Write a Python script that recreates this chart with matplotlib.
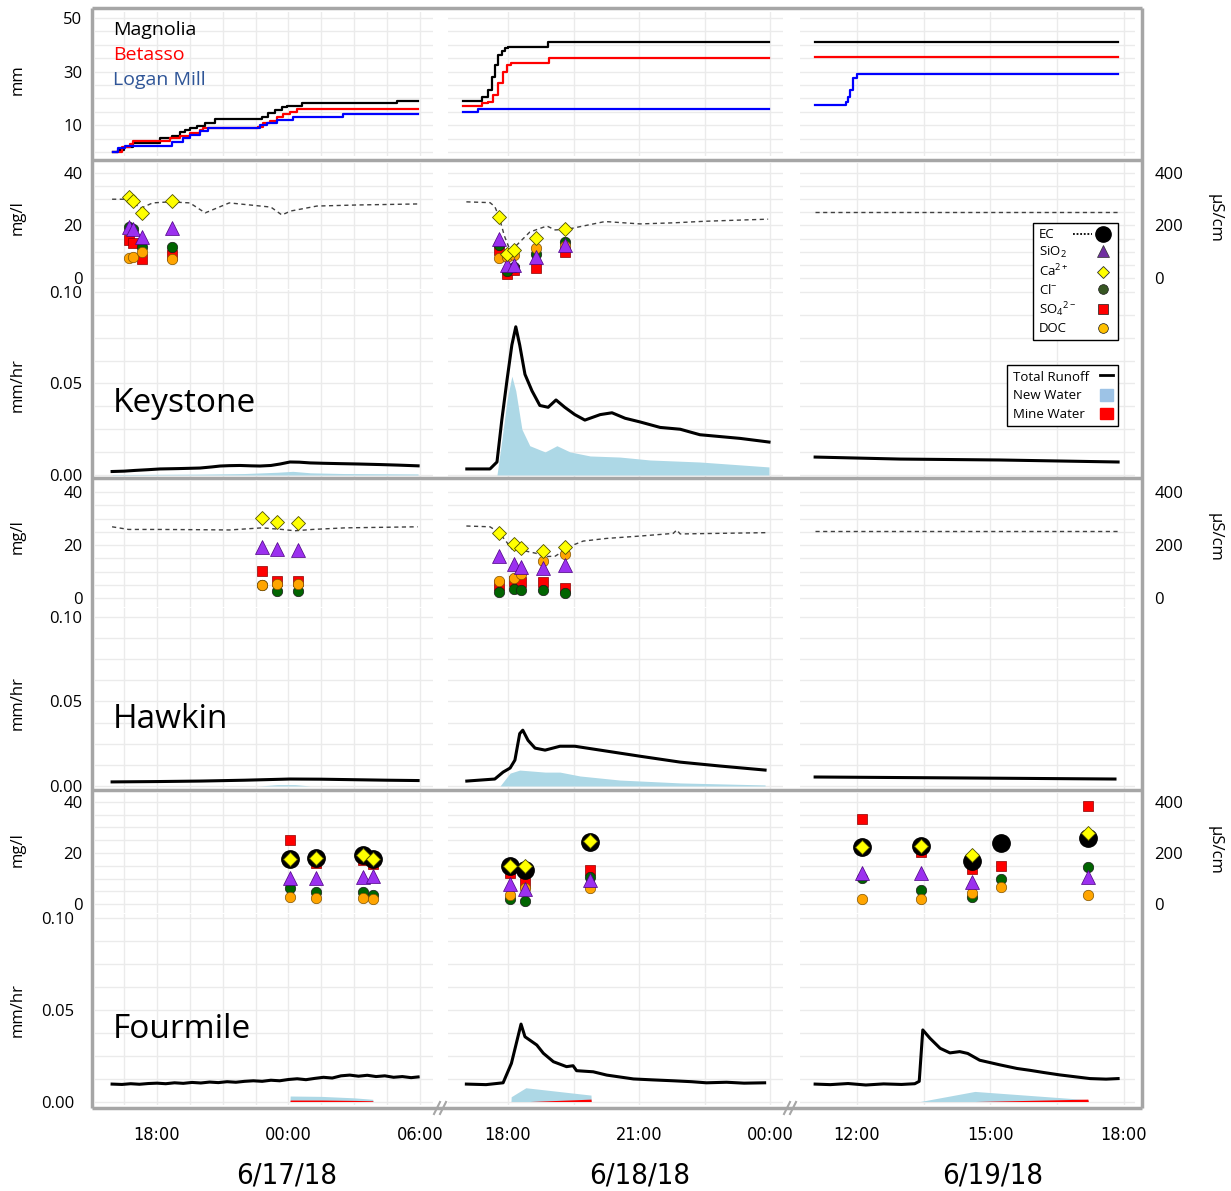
import numpy as np
import matplotlib.pyplot as plt
import matplotlib.transforms as mtransforms
from matplotlib import font_manager as fm
from matplotlib.lines import Line2D
from matplotlib.patches import Patch
from matplotlib.legend_handler import HandlerTuple

# time axis: hours since 6/17/18 00:00

# ---- cumulative precipitation (mm) ----
mag_t1 = [15.99, 16.2, 16.5, 16.9, 18.14, 18.67, 19.05, 19.28, 19.51, 19.81, 20.19, 20.65, 22.78, 23.08, 23.39, 23.69, 23.92, 24.61, 28.95, 29.93]
mag_v1 = [0, 0.8, 1.8, 3.2, 5.1, 6.1, 7.3, 8.2, 8.8, 9.8, 10.7, 12.2, 12.9, 14.4, 15.7, 16.7, 17.2, 18.2, 19.1, 19.1]
bet_t1 = [15.99, 16.39, 16.77, 16.92, 18.59, 19.05, 19.51, 19.96, 20.11, 22.63, 22.85, 23.16, 23.47, 23.77, 24.07, 24.38, 29.93]
bet_v1 = [0, 2.0, 3.0, 4.2, 5.1, 6.1, 7.0, 8.2, 9.1, 9.4, 10.7, 11.7, 13.2, 14.2, 15.0, 16.2, 16.2]
log_t1 = [15.99, 16.23, 16.54, 18.67, 19.2, 19.51, 19.96, 20.34, 22.7, 23.0, 23.47, 24.23, 26.5, 29.93]
log_v1 = [0, 1.4, 2.2, 3.8, 5.1, 6.3, 7.8, 9.1, 10.1, 10.9, 11.9, 12.9, 14.0, 14.0]

mag_t2 = [40.97, 41.40, 41.47, 41.55, 41.63, 41.70, 41.78, 41.86, 41.93, 42.01, 42.92, 47.96]
mag_v2 = [19.1, 20.4, 20.6, 23.1, 28.1, 32.5, 36.2, 37.8, 38.7, 39.3, 41.0, 41.0]
bet_t2 = [40.97, 41.40, 41.55, 41.66, 41.78, 41.89, 41.97, 42.06, 42.95, 47.96]
bet_v2 = [17.2, 18.2, 18.8, 21.3, 25.6, 30.0, 32.5, 33.3, 35.2, 35.2]
log_t2 = [40.97, 41.32, 47.96]
log_v2 = [15.0, 16.2, 16.2]

mag_t3 = [59.06, 65.87]
mag_v3 = [41.0, 41.0]
bet_t3 = [59.06, 65.87]
bet_v3 = [35.3, 35.3]
log_t3 = [59.06, 59.69, 59.75, 59.80, 59.84, 59.91, 60.0, 65.87]
log_v3 = [17.5, 17.5, 18.5, 20.5, 23.0, 27.6, 29.1, 29.1]

# ---- Keystone chemistry (mg/l) and EC (uS/cm) ----
ks_t1 = [16.74, 16.92, 17.33, 18.67]
ks_ca1 = [30.7, 29.5, 24.6, 29.5]
ks_si1 = [19.6, 18.7, 15.5, 18.9]
ks_cl1 = [19.5, 18.5, 11.7, 11.7]
ks_so41 = [14.5, 13.2, 7.1, 8.8]
ks_doc1 = [7.5, 7.9, 10.0, 7.1]
ks_ect1 = [15.95, 16.54, 17.3, 17.8, 18.6, 19.5, 20.2, 21.3, 23.2, 23.7, 24.1, 25.3, 27.1, 29.9]
ks_ec1 = [300, 300, 267, 286, 290, 286, 248, 286, 270, 240, 255, 274, 278, 282]

ks_t2 = [41.80, 41.97, 42.14, 42.64, 43.30]
ks_ca2 = [23.1, 9.0, 10.7, 15.2, 18.7]
ks_si2 = [14.7, 5.0, 5.0, 8.1, 12.6]
ks_cl2 = [12.6, 2.5, 4.0, 9.0, 13.8]
ks_so42 = [10.7, 1.4, 3.0, 3.7, 9.8]
ks_doc2 = [7.7, 8.1, 8.6, 11.3, 12.2]
ks_ect2 = [41.05, 41.59, 41.70, 41.80, 41.92, 42.05, 42.2, 42.5, 42.89, 43.08, 43.3, 43.49, 44.22, 45.02, 45.78, 46.5, 47.2, 47.95]
ks_ec2 = [290, 287, 272, 232, 160, 105, 125, 175, 198, 183, 185, 190, 215, 206, 210, 216, 220, 224]

ks_ect3 = [59.06, 65.87]
ks_ec3 = [251, 251]

# ---- Hawkin chemistry ----
hw_t1 = [22.78, 23.47, 24.45]
hw_ca1 = [30.1, 28.6, 28.4]
hw_si1 = [19.1, 18.4, 18.1]
hw_cl1 = [5.0, 2.8, 2.8]
hw_so41 = [10.3, 6.5, 6.5]
hw_doc1 = [4.9, 5.3, 5.3]
hw_ect1 = [15.95, 16.7, 18.0, 20.0, 21.3, 22.8, 23.7, 24.3, 25.1, 26.6, 29.9]
hw_ec1 = [269, 259, 259, 258, 257, 265, 259, 254, 259, 265, 269]

hw_t2 = [41.80, 42.14, 42.30, 42.81, 43.30]
hw_ca2 = [24.6, 20.3, 18.8, 17.7, 19.4]
hw_si2 = [15.8, 12.8, 11.8, 11.2, 12.5]
hw_cl2 = [2.4, 3.5, 3.0, 3.0, 1.8]
hw_so42 = [4.9, 6.5, 6.2, 5.9, 3.7]
hw_doc2 = [6.5, 7.4, 9.1, 14.1, 16.6]
hw_ect2 = [41.05, 41.59, 41.80, 42.10, 42.30, 42.64, 42.81, 43.08, 43.49, 43.72, 44.25, 45.02, 45.78, 45.86, 45.94, 47.96]
hw_ec2 = [272, 269, 247, 184, 181, 169, 156, 158, 200, 215, 225, 234, 244, 257, 242, 247]

hw_ect3 = [59.06, 65.87]
hw_ec3 = [253, 253]

# ---- Fourmile chemistry (EC as discrete samples) ----
fm_t1 = [24.07, 25.25, 27.39, 27.88]
fm_ec1 = [175, 182, 192, 175]
fm_ca1 = [17.5, 17.9, 19.2, 17.5]
fm_so41 = [25.1, 16.0, 17.3, 15.7]
fm_si1 = [10.1, 10.1, 10.5, 11.0]
fm_cl1 = [6.4, 4.8, 4.6, 3.5]
fm_doc1 = [2.9, 2.5, 2.5, 2.1]

fm_t2 = [42.05, 42.39, 43.88]
fm_ec2 = [149, 133, 244]
fm_ca2 = [14.9, 14.9, 24.8]
fm_so42 = [12.0, 8.1, 13.3]
fm_si2 = [7.8, 5.8, 9.4]
fm_cl2 = [1.8, 1.3, 10.5]
fm_doc2 = [3.5, 6.2, 6.2]

fm_t3 = [60.11, 61.45, 62.59, 63.23, 65.20]
fm_ec3 = [222, 227, 170, 240, 258]
fm_ca3 = [22.2, 22.7, 19.2, np.nan, 28.0]
fm_so43 = [33.2, 20.5, 13.7, 15.0, 38.4]
fm_si3 = [12.0, 12.0, 8.7, np.nan, 10.7]
fm_cl3 = [10.1, 5.7, 2.9, 9.7, 14.4]
fm_doc3 = [1.8, 2.0, 4.4, 6.8, 3.5]

# ---- runoff (mm/hr) ----
ks_qt1 = [15.95, 16.5, 17.0, 17.6, 18.14, 19.0, 19.96, 20.5, 20.88, 21.3, 21.79, 22.3, 22.70, 23.2, 23.62, 24.07, 24.5, 24.99, 25.6, 26.36, 27.2, 28.18, 29.0, 29.92]
ks_q1 = [0.0019, 0.0021, 0.0025, 0.0029, 0.0033, 0.0035, 0.0038, 0.0044, 0.0049, 0.0051, 0.0052, 0.0050, 0.0049, 0.0052, 0.0060, 0.0071, 0.0070, 0.0066, 0.0064, 0.0062, 0.0060, 0.0057, 0.0054, 0.0050]
ks_nt1 = [15.95, 20.0, 22.0, 23.5, 24.2, 25.0, 26.5, 29.92]
ks_new1 = [0.0002, 0.0005, 0.0008, 0.0015, 0.0020, 0.0012, 0.0008, 0.0006]
ks_qt2 = [41.06, 41.59, 41.75, 41.86, 41.98, 42.09, 42.18, 42.27, 42.39, 42.55, 42.73, 42.92, 43.10, 43.30, 43.53, 43.76, 44.11, 44.38, 44.68, 45.02, 45.48, 45.94, 46.39, 46.85, 47.31, 47.97]
ks_q2 = [0.0033, 0.0033, 0.0071, 0.030, 0.052, 0.071, 0.081, 0.071, 0.055, 0.046, 0.038, 0.037, 0.041, 0.037, 0.033, 0.030, 0.033, 0.034, 0.031, 0.029, 0.026, 0.025, 0.022, 0.021, 0.020, 0.018]
ks_nt2 = [41.75, 41.86, 41.98, 42.09, 42.18, 42.32, 42.50, 42.85, 43.12, 43.42, 43.88, 44.56, 45.25, 46.39, 47.97]
ks_new2 = [0, 0.019, 0.041, 0.054, 0.046, 0.025, 0.016, 0.0126, 0.016, 0.0126, 0.0104, 0.0098, 0.0082, 0.0071, 0.0044]
ks_qt3 = [59.06, 60.97, 63.21, 65.87]
ks_q3 = [0.0098, 0.0087, 0.0082, 0.0071]

hw_qt1 = [15.95, 18.0, 20.0, 22.0, 24.07, 25.5, 27.0, 28.5, 29.92]
hw_q1 = [0.0024, 0.0026, 0.0029, 0.0034, 0.0041, 0.0040, 0.0037, 0.0034, 0.0032]
hw_nt1 = [22.7, 23.5, 24.3, 25.0]
hw_new1 = [0, 0.0008, 0.0008, 0]
hw_qt2 = [41.06, 41.70, 41.89, 42.05, 42.16, 42.27, 42.34, 42.46, 42.62, 42.85, 43.19, 43.53, 44.11, 45.02, 45.94, 46.85, 47.88]
hw_q2 = [0.0029, 0.0041, 0.0082, 0.0106, 0.0153, 0.031, 0.033, 0.027, 0.0224, 0.0212, 0.0235, 0.0235, 0.0212, 0.0176, 0.0141, 0.0118, 0.0094]
hw_nt2 = [41.82, 42.05, 42.27, 42.85, 43.19, 43.65, 44.56, 45.94, 47.88]
hw_new2 = [0, 0.0076, 0.0094, 0.0082, 0.0082, 0.0059, 0.0035, 0.0018, 0.0006]
hw_qt3 = [59.06, 62.0, 65.80]
hw_q3 = [0.0053, 0.0048, 0.0041]

fm_qt1 = [15.95, 16.4, 16.8, 17.2, 17.6, 18.0, 18.4, 18.8, 19.2, 19.6, 20.0, 20.4, 20.8, 21.2, 21.6, 22.0, 22.4, 22.8, 23.2, 23.6, 24.0, 24.4, 24.8, 25.2, 25.6, 26.0, 26.4, 26.8, 27.2, 27.6, 28.0, 28.4, 28.8, 29.2, 29.6, 29.92]
fm_q1 = [0.0095, 0.0093, 0.0097, 0.0094, 0.0098, 0.0100, 0.0097, 0.0102, 0.0099, 0.0104, 0.0101, 0.0106, 0.0103, 0.0108, 0.0105, 0.0110, 0.0113, 0.0110, 0.0116, 0.0113, 0.0120, 0.0124, 0.0119, 0.0126, 0.0132, 0.0128, 0.0140, 0.0144, 0.0138, 0.0143, 0.0136, 0.0140, 0.0132, 0.0136, 0.0130, 0.0134]
fm_nt1 = [24.07, 24.08, 25.5, 27.0, 27.85, 27.86]
fm_new1 = [0, 0.0030, 0.0028, 0.0020, 0.0012, 0]
fm_mine1 = [0, 0.0008, 0.0008, 0.0006, 0.0004, 0]
fm_qt2 = [41.05, 41.5, 41.89, 42.08, 42.30, 42.39, 42.66, 42.81, 43.04, 43.34, 43.49, 43.57, 43.95, 44.26, 44.87, 45.3, 45.78, 46.2, 46.54, 47.0, 47.4, 47.87]
fm_q2 = [0.0095, 0.0092, 0.0102, 0.0208, 0.0422, 0.0353, 0.0308, 0.0263, 0.0217, 0.0190, 0.0195, 0.0168, 0.0162, 0.0144, 0.0123, 0.0118, 0.0113, 0.0108, 0.0102, 0.0105, 0.0100, 0.0102]
fm_nt2 = [42.07, 42.075, 42.41, 43.90, 43.905]
fm_new2 = [0, 0.0026, 0.0075, 0.0035, 0]
fm_mt2 = [42.07, 42.5, 43.90, 43.905]
fm_mine2 = [0, 0, 0.0013, 0]
fm_qt3 = [59.06, 59.4, 59.8, 60.2, 60.6, 61.0, 61.3, 61.40, 61.48, 61.64, 61.87, 62.09, 62.31, 62.49, 62.76, 63.21, 63.6, 63.89, 64.2, 64.56, 64.9, 65.24, 65.6, 65.87]
fm_q3 = [0.0095, 0.0092, 0.0098, 0.0090, 0.0096, 0.0093, 0.0097, 0.0110, 0.0390, 0.0345, 0.0290, 0.0265, 0.0272, 0.0262, 0.0225, 0.0200, 0.0180, 0.0170, 0.0158, 0.0145, 0.0135, 0.0125, 0.0122, 0.0125]
fm_nt3 = [61.42, 62.65, 65.19, 65.20]
fm_new3 = [0, 0.0055, 0.0010, 0]
fm_mt3 = [62.65, 65.19, 65.20]
fm_mine3 = [0, 0.0013, 0]

# ---- tick labels ----
xlab_pos = [[18, 24, 30], [42, 45, 48], [60, 63, 66]]
xlab_txt = [['18:00', '00:00', '06:00'], ['18:00', '21:00', '00:00'], ['12:00', '15:00', '18:00']]
dates = ['6/17/18', '6/18/18', '6/19/18']
sites = ['Keystone', 'Hawkin', 'Fourmile']

W, H = 1231, 1191
plt.rcParams['font.family'] = ['Open Sans', 'DejaVu Sans']
plt.rcParams['mathtext.default'] = 'regular'


def pick_narrow():
    for fam, st in [('Liberation Sans Narrow', 'normal'), ('DejaVu Sans', 'condensed')]:
        try:
            p = fm.findfont(fm.FontProperties(family=fam, stretch=st), fallback_to_default=False)
        except ValueError:
            continue
        if 'Narrow' in p or 'Condensed' in p:
            return dict(family=fam, stretch=st), 1.0
    return dict(family='Roboto'), 0.85


narrow, nscale = pick_narrow()

fig = plt.figure(figsize=(W / 100, H / 100), dpi=100)

GRID = '#ebebeb'
FRAME = '#a6a6a6'
cols_px = [(95, 433), (448, 783), (800, 1135)]
cols_xlim = [(15.17, 30.60), (40.63, 48.29), (58.72, 66.25)]
xgrid = [np.arange(16.5, 30.7, 1.5), np.arange(42.0, 48.3, 1.5), np.arange(60.0, 66.3, 1.5)]


def px_axes(l, t, r, b):
    return fig.add_axes([l / W, 1 - b / H, (r - l) / W, (b - t) / H])


def style(ax, c, ylim, yticks, ylabels, fmt):
    ax.set_xlim(*cols_xlim[c])
    ax.set_ylim(*ylim)
    ax.set_xticks(xgrid[c])
    ax.set_yticks(yticks)
    ax.grid(True, color=GRID, lw=1)
    ax.set_axisbelow(True)
    for s in ax.spines.values():
        s.set_visible(False)
    ax.tick_params(length=0, labelbottom=False, labelleft=(c == 0), pad=9, labelsize=12)
    if c == 0:
        ax.set_yticklabels([fmt.format(v) if np.any(np.isclose(v, ylabels)) else '' for v in yticks])


def chem(ax, t, ca, si, cl, so4, doc, ect=None, ec=None, ecpts=None):
    ectr = mtransforms.Affine2D().scale(1, 0.1) + ax.transData
    if ect is not None:
        ax.plot(ect, ec, ls=(0, (3, 2.5)), color='#404040', lw=1.0, transform=ectr, zorder=2)
    ax.plot(t, so4, 's', ms=7, mfc='#ff0000', mec='#8b0000', mew=0.5, zorder=3)
    ax.plot(t, cl, 'o', ms=7.5, mfc='#006400', mec='#1a1a1a', mew=0.5, zorder=4)
    ax.plot(t, doc, 'o', ms=7.5, mfc='#ffa500', mec='#7f5200', mew=0.5, zorder=5)
    ax.plot(t, si, '^', ms=9.5, mfc='#9b30ef', mec='#4b0082', mew=0.5, zorder=6)
    if ecpts is not None:
        ax.plot(t, ecpts, 'o', ms=12.5, color='black', transform=ectr, zorder=7)
    ax.plot(t, ca, 'D', ms=6.8, mfc='#ffff00', mec='#505000', mew=0.6, zorder=8)


def runoff(ax, t, q, nt=None, new=None, mt=None, mine=None):
    if nt is not None:
        ax.fill_between(nt, 0, new, color='#add8e6', lw=0, zorder=2)
    if mt is not None:
        ax.fill_between(mt, 0, mine, color='#ff0000', lw=0, zorder=3)
    ax.plot(t, q, color='black', lw=2.2, zorder=4)


# row layout: (top px, bottom px, ylim)
rows = {
    'precip': (12, 156, (-1.5, 52.2)),
    'ks_chem': (163, 289, (-4.2, 43.8)),
    'ks_q': (290, 477, (-0.0011, 0.1011)),
    'hw_chem': (481, 607, (-3.4, 44.2)),
    'hw_q': (608, 789, (-0.0018, 0.1053)),
    'fm_chem': (793, 913, (-3.5, 43.5)),
    'fm_q': (914, 1105, (-0.0019, 0.1022)),
}

precip = [((mag_t1, mag_v1), (bet_t1, bet_v1), (log_t1, log_v1)),
          ((mag_t2, mag_v2), (bet_t2, bet_v2), (log_t2, log_v2)),
          ((mag_t3, mag_v3), (bet_t3, bet_v3), (log_t3, log_v3))]
chem_data = {
    'ks_chem': [(ks_t1, ks_ca1, ks_si1, ks_cl1, ks_so41, ks_doc1, ks_ect1, ks_ec1, None),
                (ks_t2, ks_ca2, ks_si2, ks_cl2, ks_so42, ks_doc2, ks_ect2, ks_ec2, None),
                ([], [], [], [], [], [], ks_ect3, ks_ec3, None)],
    'hw_chem': [(hw_t1, hw_ca1, hw_si1, hw_cl1, hw_so41, hw_doc1, hw_ect1, hw_ec1, None),
                (hw_t2, hw_ca2, hw_si2, hw_cl2, hw_so42, hw_doc2, hw_ect2, hw_ec2, None),
                ([], [], [], [], [], [], hw_ect3, hw_ec3, None)],
    'fm_chem': [(fm_t1, fm_ca1, fm_si1, fm_cl1, fm_so41, fm_doc1, None, None, fm_ec1),
                (fm_t2, fm_ca2, fm_si2, fm_cl2, fm_so42, fm_doc2, None, None, fm_ec2),
                (fm_t3, fm_ca3, fm_si3, fm_cl3, fm_so43, fm_doc3, None, None, fm_ec3)],
}
q_data = {
    'ks_q': [(ks_qt1, ks_q1, ks_nt1, ks_new1, None, None),
             (ks_qt2, ks_q2, ks_nt2, ks_new2, None, None),
             (ks_qt3, ks_q3, None, None, None, None)],
    'hw_q': [(hw_qt1, hw_q1, hw_nt1, hw_new1, None, None),
             (hw_qt2, hw_q2, hw_nt2, hw_new2, None, None),
             (hw_qt3, hw_q3, None, None, None, None)],
    'fm_q': [(fm_qt1, fm_q1, fm_nt1, fm_new1, fm_nt1, fm_mine1),
             (fm_qt2, fm_q2, fm_nt2, fm_new2, fm_mt2, fm_mine2),
             (fm_qt3, fm_q3, fm_nt3, fm_new3, fm_mt3, fm_mine3)],
}

for c, (l, r) in enumerate(cols_px):
    top, bot, yl = rows['precip']
    ax = px_axes(l, top, r, bot)
    style(ax, c, yl, np.arange(0, 51, 5), [10, 30, 50], '{:.0f}')
    for (t, v), col in zip(precip[c], ['black', '#ff0000', '#0000ff']):
        ax.plot(t, v, color=col, lw=1.6, drawstyle='steps-post')
    if c == 0:
        for i, (name, col) in enumerate(zip(['Magnolia', 'Betasso', 'Logan Mill'], ['black', '#ff0000', '#2f5597'])):
            fig.text(113 / W, 1 - (30 + 25 * i) / H, name, color=col, fontsize=14, va='center')

    for key in ['ks_chem', 'hw_chem', 'fm_chem']:
        top, bot, yl = rows[key]
        ax = px_axes(l, top, r, bot)
        style(ax, c, yl, np.arange(0, 41, 5), [0, 20, 40], '{:.0f}')
        t, ca, si, cl, so4, doc, ect, ec, ecp = chem_data[key][c]
        chem(ax, t, ca, si, cl, so4, doc, ect, ec, ecp)
        if c == 2:
            sec = ax.secondary_yaxis('right', functions=(lambda v: v * 10, lambda v: v / 10))
            sec.set_yticks([0, 200, 400])
            sec.tick_params(length=0, pad=14, labelsize=12)
            sec.spines['right'].set_visible(False)

    for key in ['ks_q', 'hw_q', 'fm_q']:
        top, bot, yl = rows[key]
        ax = px_axes(l, top, r, bot)
        style(ax, c, yl, np.arange(0, 0.1001, 0.0125), [0, 0.05, 0.1], '{:.2f}')
        t, q, nt, new, mt, mine = q_data[key][c]
        runoff(ax, t, q, nt, new, mt, mine)
        if key == 'fm_q':
            ax.tick_params(labelbottom=True, pad=15)
            ax.set_xticklabels([xlab_txt[c][xlab_pos[c].index(v)] if v in xlab_pos[c] else '' for v in xgrid[c]],
                               fontsize=13 * nscale, **narrow)

# site names and axis titles
for name, y in zip(sites, [403, 720, 1030]):
    fig.text(113 / W, 1 - y / H, name, fontsize=24, va='center', ha='left')
for y in [218, 537, 850]:
    fig.text(18 / W, 1 - y / H, 'mg/l', rotation=90, fontsize=12, ha='center', va='center')
    fig.text(1215 / W, 1 - y / H, 'µS/cm', rotation=270, fontsize=12, ha='center', va='center')
for y in [385, 703, 1010]:
    fig.text(18 / W, 1 - y / H, 'mm/hr', rotation=90, fontsize=12, ha='center', va='center')
fig.text(18 / W, 1 - 80 / H, 'mm', rotation=90, fontsize=12, ha='center', va='center')
for d, x in zip(dates, [287, 640, 993]):
    fig.text(x / W, 1 - 1175 / H, d, fontsize=21 * nscale, ha='center', va='center', **narrow)

# legends: labels left, symbols right
blank = Line2D([], [], ls='none')
chem_handles = [
    (Line2D([], [], ls=(0, (1, 1)), color='black', lw=1.3), Line2D([], [], ls='none', marker='o', ms=11, color='black')),
    (blank, Line2D([], [], ls='none', marker='^', ms=8, mfc='#7030a0', mec='#303030', mew=0.5)),
    (blank, Line2D([], [], ls='none', marker='D', ms=6, mfc='#ffff00', mec='#303030', mew=0.6)),
    (blank, Line2D([], [], ls='none', marker='o', ms=7, mfc='#375623', mec='#1a1a1a', mew=0.5)),
    (blank, Line2D([], [], ls='none', marker='s', ms=7.5, mfc='#ff0000', mec='#1a1a1a', mew=0.5)),
    (blank, Line2D([], [], ls='none', marker='o', ms=7, mfc='#ffc000', mec='#1a1a1a', mew=0.5)),
]
chem_labels = ['EC', 'SiO$_2$', 'Ca$^{2+}$', 'Cl$^{-}$', 'SO$_4$$^{2-}$', 'DOC']
lg1 = fig.legend(chem_handles, chem_labels, handler_map={tuple: HandlerTuple(ndivide=2, pad=0.2)},
                 loc='upper right', bbox_to_anchor=(1118 / W, 1 - 223 / H), bbox_transform=fig.transFigure,
                 markerfirst=False, frameon=True, fancybox=False, edgecolor='black', framealpha=1,
                 fontsize=9.5, borderpad=0.4, labelspacing=0.25, handlelength=3.0, handletextpad=0.5,
                 borderaxespad=0)
lg1.get_frame().set_linewidth(1.0)

q_handles = [Line2D([], [], color='black', lw=2), Patch(color='#9dc3e6'), Patch(color='#ff0000')]
lg2 = fig.legend(q_handles, ['Total Runoff', 'New Water', 'Mine Water'],
                 loc='upper right', bbox_to_anchor=(1118 / W, 1 - 365 / H), bbox_transform=fig.transFigure,
                 markerfirst=False, frameon=True, fancybox=False, edgecolor='black', framealpha=1,
                 fontsize=9.5, borderpad=0.4, labelspacing=0.4, handlelength=1.0, handleheight=1.0,
                 handletextpad=0.5, borderaxespad=0)
lg2.get_frame().set_linewidth(1.0)

for lg, width in [(lg1, 74), (lg2, 100)]:
    for column in lg._legend_handle_box.get_children():
        column.align = 'left'
        for item in column.get_children():
            item.mode = 'expand'
            item.width = width

# outer frames and axis-break marks
ov = fig.add_axes([0, 0, 1, 1], zorder=10)
ov.set_xlim(0, W)
ov.set_ylim(H, 0)
ov.axis('off')
ov.patch.set_alpha(0)
for y in [8, 160, 478, 790, 1108]:
    ov.plot([92, 1142], [y, y], color=FRAME, lw=2.5, solid_capstyle='butt')
for x in [92, 1142]:
    ov.plot([x, x], [8, 1108], color=FRAME, lw=2.5, solid_capstyle='butt')
for x in [440, 790]:
    ov.fill_between([x - 5, x + 5], 1102, 1114, color='white', lw=0)
    for dx in [-3, 3]:
        ov.plot([x + dx - 3, x + dx + 3], [1114, 1102], color=FRAME, lw=1.5)

fig.savefig('out.png', dpi=100)
